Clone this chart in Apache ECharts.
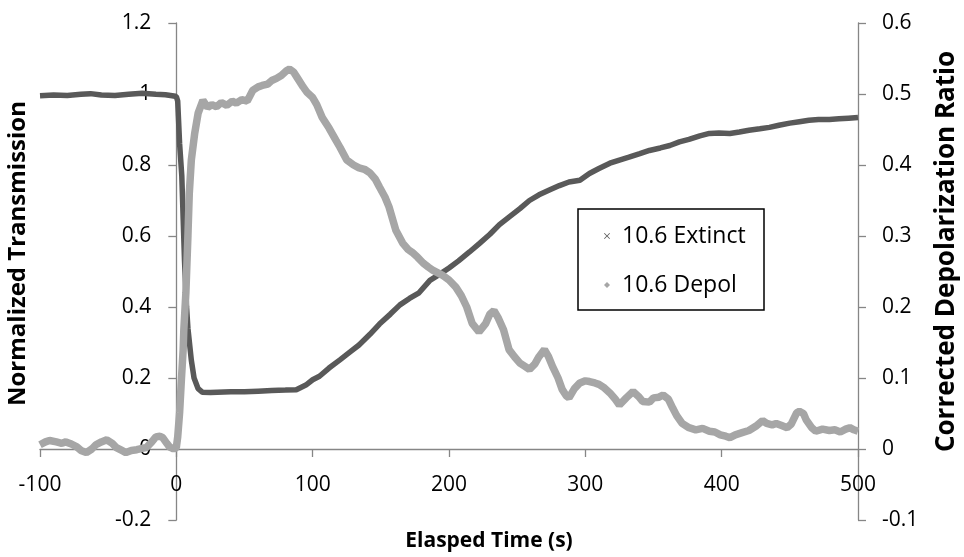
<!DOCTYPE html>
<html><head><meta charset="utf-8">
<script src="https://cdn.jsdelivr.net/npm/echarts@6/dist/echarts.min.js"></script>
<style>html,body{margin:0;padding:0;background:#fff}#c{width:964px;height:557px}</style>
</head><body><div id="c"></div>
<script>
// ---- data ----
const seriesNames = ['10.6 Extinct', '10.6 Depol'];

const extinctTime = [-100,-90,-80,-70,-63,-55,-45,-35,-25,-15,-8,-3,0,1,2.4,4,5,6,7.5,8.5,11,13,16,19,25,30,40,50,60,70,80,88,95,100,105,112,120,127,134,142,149,157,164,171,178,186,193,200,207,215,222,230,237,244,252,259,266,274,281,288,296,303,310,318,325,332,340,347,355,362,369,376,384,391,398,406,413,420,428,435,442,450,457,464,471,479,486,493,500];
const extinctValue = [0.995,0.997,0.996,0.999,1.001,0.997,0.996,0.999,1.002,0.999,0.998,0.995,0.993,0.98,0.86,0.77,0.65,0.53,0.40,0.34,0.25,0.20,0.17,0.16,0.159,0.16,0.161,0.161,0.163,0.165,0.166,0.167,0.18,0.195,0.205,0.228,0.251,0.272,0.293,0.323,0.352,0.38,0.406,0.424,0.44,0.475,0.492,0.51,0.53,0.555,0.578,0.605,0.632,0.653,0.677,0.70,0.716,0.73,0.742,0.752,0.757,0.776,0.79,0.805,0.814,0.822,0.832,0.841,0.848,0.855,0.865,0.872,0.882,0.889,0.89,0.889,0.893,0.898,0.902,0.906,0.912,0.918,0.922,0.926,0.928,0.928,0.93,0.932,0.934];

const depolTime = [-100,-96,-93,-88,-84,-81,-77,-73,-70,-66,-62,-59,-55,-51,-47,-44,-40,-37,-33,-29,-25,-22,-18,-15,-12,-10,-7,-5,-2,0,1,2.4,3.7,5,5.5,7,8.5,9.5,11,13.5,16,19.5,23,26,29.5,33,37,41,44,48,52,56,60,63,67,70,73.5,77,81,83,86,89,93,96,100,103,107,112,117,120,125,130,134,138,142,146,149,153,156,161,166,170,173,177,181,185,188,195,200,205,209,213,217,222,227,230,233,236,240,244,248,252,256,259,263,266,270,273,276,280,283,286,288,292,296,300,303,307,310,314,318,322,325,330,335,339,342,347,350,354,357,361,364,367,371,376,381,386,391,395,399,403,406,410,415,420,425,430,433,437,440,444,448,451,455,457,460,462,466,469,474,479,483,487,491,494,497,500];
const depolValue = [0.006,0.01,0.012,0.01,0.008,0.01,0.007,0.003,-0.002,-0.005,0.0,0.006,0.01,0.013,0.008,0.002,-0.002,-0.005,-0.002,-0.001,0.001,0.002,0.01,0.017,0.018,0.016,0.008,0.003,0.0,0.002,0.017,0.051,0.097,0.14,0.168,0.22,0.30,0.36,0.407,0.445,0.473,0.491,0.481,0.485,0.482,0.488,0.484,0.49,0.487,0.492,0.49,0.505,0.51,0.512,0.514,0.519,0.522,0.526,0.533,0.535,0.531,0.522,0.51,0.502,0.495,0.485,0.467,0.452,0.435,0.425,0.407,0.40,0.396,0.394,0.389,0.38,0.369,0.355,0.341,0.308,0.29,0.281,0.277,0.27,0.262,0.256,0.252,0.245,0.238,0.228,0.216,0.20,0.177,0.165,0.177,0.19,0.195,0.185,0.168,0.14,0.13,0.121,0.116,0.112,0.12,0.13,0.14,0.13,0.116,0.10,0.084,0.075,0.072,0.085,0.093,0.096,0.095,0.093,0.091,0.086,0.079,0.07,0.062,0.072,0.081,0.074,0.067,0.066,0.072,0.073,0.076,0.07,0.058,0.047,0.036,0.03,0.027,0.029,0.025,0.024,0.02,0.018,0.016,0.02,0.023,0.026,0.032,0.04,0.036,0.034,0.036,0.033,0.03,0.035,0.051,0.053,0.05,0.041,0.03,0.025,0.028,0.026,0.027,0.024,0.028,0.03,0.027,0.025];

const xAxisRange = {min: -100, max: 500, interval: 100};
const leftAxisRange = {min: -0.2, max: 1.2, interval: 0.2};
const rightAxisRange = {min: -0.1, max: 0.6, interval: 0.1};

const xTitle = 'Elasped Time (s)';
const leftTitle = 'Normalized Transmission';
const rightTitle = 'Corrected Depolarization Ratio';

// ---- layout ----
const W = 964, H = 557;
const PL = 40, PR = 858, PT = 23, PB = 520;   // plot area edges (px)
const xZeroPx = PL + (0 - xAxisRange.min) / (xAxisRange.max - xAxisRange.min) * (PR - PL);
const yZeroPx = PT + (leftAxisRange.max - 0) / (leftAxisRange.max - leftAxisRange.min) * (PB - PT);

const FONT = '"Open Sans", sans-serif';
const AXIS_COLOR = '#868686';
const mk = () => ({color: AXIS_COLOR, width: 1.3});
const lbl = (m) => ({margin: m, color: '#000', fontSize: 21, fontFamily: FONT});
const titleStyle = (size) => ({fontFamily: FONT, fontSize: size, fontWeight: 'bold', color: '#000', align: 'center', verticalAlign: 'middle'});
const hiddenAxis = (grid, extra) => Object.assign({gridIndex: grid, type: 'value', min: 0, max: 1, show: false}, extra || {});
const nameOnlyAxis = (grid, extra) => Object.assign({
  gridIndex: grid, type: 'value', min: 0, max: 1, show: true,
  axisLine: {show: false, onZero: false}, axisTick: {show: false}, axisLabel: {show: false}, splitLine: {show: false},
  nameLocation: 'middle'
}, extra);

const extinctData = extinctTime.map((t, i) => [t, extinctValue[i]]);
const depolData = depolTime.map((t, i) => [t, depolValue[i]]);

const crossIcon = 'path://M0,1L1,0L5,4L9,0L10,1L6,5L10,9L9,10L5,6L1,10L0,9L4,5Z';
const diamondIcon = 'path://M5,0L10,5L5,10L0,5Z';

const chart = echarts.init(document.getElementById('c'), null, {renderer: 'canvas'});
chart.setOption({
  animation: false,
  grid: [
    // 0: data grid (full plot area)
    {left: PL, right: W - PR, top: PT, bottom: H - PB, outerBoundsMode: 'none'},
    // 1: grid whose bottom edge sits at y = 0 -> visible x axis
    {left: PL, right: W - PR, top: PT, bottom: H - yZeroPx, outerBoundsMode: 'none'},
    // 2: grid whose left edge sits at x = 0 -> visible left y axis
    {left: xZeroPx, right: W - PR, top: PT, bottom: H - PB, outerBoundsMode: 'none'},
    // 3: left axis title holder
    {left: PL, right: W - PR, top: PT, bottom: 73, outerBoundsMode: 'none'},
    // 4: right axis title holder
    {left: PL, right: 17, top: PT, bottom: 77, outerBoundsMode: 'none'},
    // 5: x axis title holder
    {left: 120, right: W - PR, top: PT, bottom: H - PB, outerBoundsMode: 'none'}
  ],
  xAxis: [
    hiddenAxis(0, {min: xAxisRange.min, max: xAxisRange.max, interval: xAxisRange.interval}),
    {gridIndex: 1, type: 'value', position: 'bottom', min: xAxisRange.min, max: xAxisRange.max, interval: xAxisRange.interval,
      axisLine: {show: true, onZero: false, lineStyle: mk()},
      axisTick: {show: true, length: 8, lineStyle: mk()},
      axisLabel: lbl(26), splitLine: {show: false}},
    hiddenAxis(2, {min: 0, max: xAxisRange.max}),
    hiddenAxis(3),
    hiddenAxis(4),
    nameOnlyAxis(5, {position: 'bottom', name: xTitle, nameGap: 21, nameTextStyle: titleStyle(21)})
  ],
  yAxis: [
    hiddenAxis(0, {min: leftAxisRange.min, max: leftAxisRange.max, interval: leftAxisRange.interval}),
    {gridIndex: 0, type: 'value', position: 'right', min: rightAxisRange.min, max: rightAxisRange.max, interval: rightAxisRange.interval,
      axisLine: {show: true, onZero: false, lineStyle: mk()},
      axisTick: {show: true, length: 8, lineStyle: mk()},
      axisLabel: lbl(24), splitLine: {show: false}},
    hiddenAxis(1, {min: 0, max: leftAxisRange.max}),
    {gridIndex: 2, type: 'value', position: 'left', min: leftAxisRange.min, max: leftAxisRange.max, interval: leftAxisRange.interval,
      axisLine: {show: true, onZero: false, lineStyle: mk()},
      axisTick: {show: true, length: 8, lineStyle: mk()},
      axisLabel: lbl(25), splitLine: {show: false}},
    nameOnlyAxis(3, {position: 'left', name: leftTitle, nameGap: 22, nameRotate: 90, nameTextStyle: titleStyle(24)}),
    nameOnlyAxis(4, {position: 'right', name: rightTitle, nameGap: 0, nameRotate: 90, nameTextStyle: titleStyle(26)}),
    hiddenAxis(5)
  ],
  legend: {
    orient: 'vertical', left: 604, top: 224, itemWidth: 20, itemHeight: 6, itemGap: 25,
    padding: 0,
    textStyle: {fontSize: 23, fontFamily: FONT, color: '#000', lineHeight: 24},
    data: [{name: seriesNames[0], icon: crossIcon}, {name: seriesNames[1], icon: diamondIcon}]
  },
  graphic: [
    {type: 'rect', shape: {x: 578, y: 209, width: 186, height: 101}, style: {fill: 'none', stroke: '#000', lineWidth: 1.5}, z: 100}
  ],
  series: [{
    name: seriesNames[0], type: 'line', data: extinctData, xAxisIndex: 0, yAxisIndex: 0,
    showSymbol: false,
    itemStyle: {color: '#595959'},
    lineStyle: {color: '#595959', width: 5.5}
  }, {
    name: seriesNames[1], type: 'line', data: depolData, xAxisIndex: 0, yAxisIndex: 1,
    showSymbol: false,
    itemStyle: {color: '#a6a6a6'},
    lineStyle: {color: '#a6a6a6', width: 7.5}
  }]
});
</script></body></html>
